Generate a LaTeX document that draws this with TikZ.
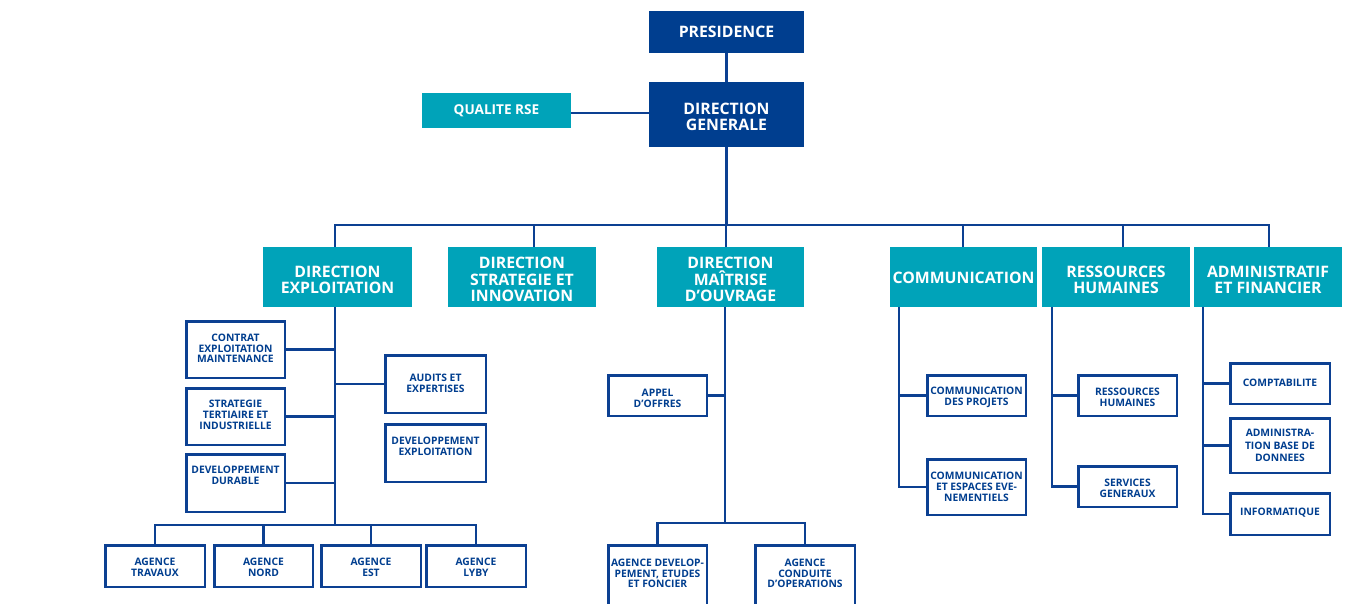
\documentclass[tikz,border=0pt]{standalone}
\usepackage{fontspec}
\setmainfont{Open Sans}
\definecolor{navy}{RGB}{0,62,143}
\definecolor{tealc}{RGB}{0,163,185}
\definecolor{lineblue}{RGB}{12,64,146}
\tikzset{
  conn/.style={draw=lineblue, line width=2.2pt},
  darkbox/.style={fill=navy, inner sep=0pt},
  tealbox/.style={fill=tealc, inner sep=0pt},
  headtxt/.style={text=white, font=\bfseries\fontsize{15.8}{16.3}\selectfont, align=center, inner sep=0pt},
  subbox/.style={draw=lineblue, line width=2.5pt, fill=white, inner sep=0pt},
  subtxt/.style={text=navy, font=\bfseries\fontsize{10.3}{10.8}\selectfont, align=center, inner sep=0pt},
}
% #1 name, #2 style, #3-#6 box corners, #7 text shift down, #8 text
\newcommand{\hbx}[8]{\node[#2, minimum width={#5pt-#3pt}, minimum height={#6pt-#4pt}] (#1) at ({(#3+#5)/2},{(#4+#6)/2}) {};
  \node[headtxt] (#1t) at ([yshift={-(#7)*1pt}]#1.center) {#8};}
\newcommand{\obx}[7]{\node[subbox, minimum width={#4pt-#2pt-2.5pt}, minimum height={#5pt-#3pt-2.5pt}] (#1) at ({(#2+#4)/2},{(#3+#5)/2}) {};
  \node[subtxt] (#1t) at ([yshift={-(#6)*1pt}]#1.center) {#7};}
\begin{document}
\begin{tikzpicture}[x=1pt,y=-1pt]
\clip (0,0) rectangle (1350,603);
\fill[white] (0,0) rectangle (1350,603);
% top
\hbx{pres}{darkbox}{649}{11}{804}{53}{0}{PRESIDENCE}
\hbx{dg}{darkbox}{649}{82}{804}{147}{2.5}{DIRECTION\\GENERALE}
\node[darkbox, fill=tealc, minimum width=149pt, minimum height=35pt] (qual) at (496.5,110.5) {};
\node[headtxt, font=\bfseries\fontsize{13.6}{14}\selectfont] (qualt) at (qual.center) {QUALITE RSE};
% second level
\hbx{de}{tealbox}{263}{247}{412}{307}{2.7}{DIRECTION\\EXPLOITATION}
\hbx{dsi}{tealbox}{448}{247}{596}{307}{2.5}{DIRECTION\\STRATEGIE ET\\INNOVATION}
\hbx{dmo}{tealbox}{657}{247}{804}{307}{2.5}{DIRECTION\\MAÎTRISE\\D’OUVRAGE}
\hbx{comm}{tealbox}{890}{247}{1037}{307}{0.5}{COMMUNICATION}
\hbx{rh}{tealbox}{1042}{247}{1190}{307}{2.7}{RESSOURCES\\HUMAINES}
\hbx{adm}{tealbox}{1194}{247}{1342}{307}{2.7}{ADMINISTRATIF\\ET FINANCIER}
% exploitation
\obx{contrat}{185}{320}{286}{379}{-1}{CONTRAT\\EXPLOITATION\\MAINTENANCE}
\obx{strat}{185}{387}{286}{446}{-1.5}{STRATEGIE\\TERTIAIRE ET\\INDUSTRIELLE}
\obx{durable}{185}{453}{286}{513}{-8}{DEVELOPPEMENT\\DURABLE}
\obx{audits}{384}{354}{487}{414}{-1}{AUDITS ET\\EXPERTISES}
\obx{devexp}{384}{423}{487}{483}{-6.5}{DEVELOPPEMENT\\EXPLOITATION}
\obx{travaux}{104}{544}{206}{588}{1.5}{AGENCE\\TRAVAUX}
\obx{nord}{213}{544}{314}{588}{1.5}{AGENCE\\NORD}
\obx{est}{320}{544}{422}{588}{1.5}{AGENCE\\EST}
\obx{lyby}{425}{544}{527}{588}{1.5}{AGENCE\\LYBY}
% maitrise d'ouvrage
\obx{appel}{607}{374}{708}{417}{2.5}{APPEL\\D’OFFRES}
\obx{agdev}{607}{544}{708}{615}{-6}{AGENCE DEVELOP-\\PEMENT, ETUDES\\ET FONCIER}
\obx{agcond}{754}{544}{856}{615}{-6}{AGENCE\\CONDUITE\\D’OPERATIONS}
% communication
\obx{comproj}{926}{374}{1027}{417}{2}{COMMUNICATION\\DES PROJETS}
\obx{comesp}{926}{458}{1027}{516}{0}{COMMUNICATION\\ET ESPACES EVE-\\NEMENTIELS}
% rh
\obx{rhsub}{1077}{374}{1178}{417}{2}{RESSOURCES\\HUMAINES}
\obx{servg}{1077}{465}{1178}{508}{2}{SERVICES\\GENERAUX}
% admin
\obx{compta}{1229}{362}{1331}{405}{-1}{COMPTABILITE}
\obx{admbd}{1229}{417}{1331}{474}{0}{ADMINISTRA-\\[1.5pt]TION BASE DE\\[1.5pt]DONNEES}
\obx{info}{1229}{492}{1331}{536}{-1.5}{INFORMATIQUE}
% connectors top
\draw[conn] (pres) -- (dg);
\draw[conn] ([yshift=-2.5pt]qual.east) -- ([yshift=-2.5pt]qual.east -| dg.west);
\coordinate (busL) at (335,225);
\coordinate (busR) at (1269,225);
\draw[conn] (dg.south) -- (dg.south |- busL);
\draw[conn] (busL |- de.north) -- (busL) -- (busR) -- (busR |- adm.north);
\coordinate (dsiD) at (534,225);
\coordinate (dmoD) at (726,225);
\coordinate (commD) at (963,225);
\coordinate (rhD) at (1123,225);
\draw[conn] (dsiD) -- (dsiD |- dsi.north);
\draw[conn] (dmoD) -- (dmoD |- dmo.north);
\draw[conn] (commD) -- (commD |- comm.north);
\draw[conn] (rhD) -- (rhD |- rh.north);
% exploitation connectors
\coordinate (deT) at (335,525);
\draw[conn] (deT |- de.south) -- (deT);
\draw[conn] (contrat.east) -- (contrat.east -| deT);
\draw[conn] (strat.east) -- (strat.east -| deT);
\draw[conn] (durable.east) -- (durable.east -| deT);
\draw[conn] (audits.west) -- (audits.west -| deT);
\draw[conn] (travaux.north) -- (travaux.north |- deT) -- (lyby.north |- deT) -- (lyby.north);
\draw[conn] (nord.north) -- (nord.north |- deT);
\draw[conn] (est.north) -- (est.north |- deT);
% maitrise d'ouvrage connectors
\coordinate (dmoT) at (725,523);
\draw[conn] (dmoT |- dmo.south) -- (dmoT);
\draw[conn] (appel.east) -- (appel.east -| dmoT);
\draw[conn] (agdev.north) -- (agdev.north |- dmoT) -- (agcond.north |- dmoT) -- (agcond.north);
% communication connectors
\coordinate (commX) at (899,307);
\draw[conn] (commX) |- (comesp.west);
\draw[conn] (comproj.west) -- (comproj.west -| commX);
% rh connectors
\coordinate (rhX) at (1052,307);
\draw[conn] (rhX) |- (servg.west);
\draw[conn] (rhsub.west) -- (rhsub.west -| rhX);
% admin connectors
\coordinate (admX) at (1203,307);
\draw[conn] (admX) |- (info.west);
\draw[conn] (compta.west) -- (compta.west -| admX);
\draw[conn] (admbd.west) -- (admbd.west -| admX);
\end{tikzpicture}
\end{document}
